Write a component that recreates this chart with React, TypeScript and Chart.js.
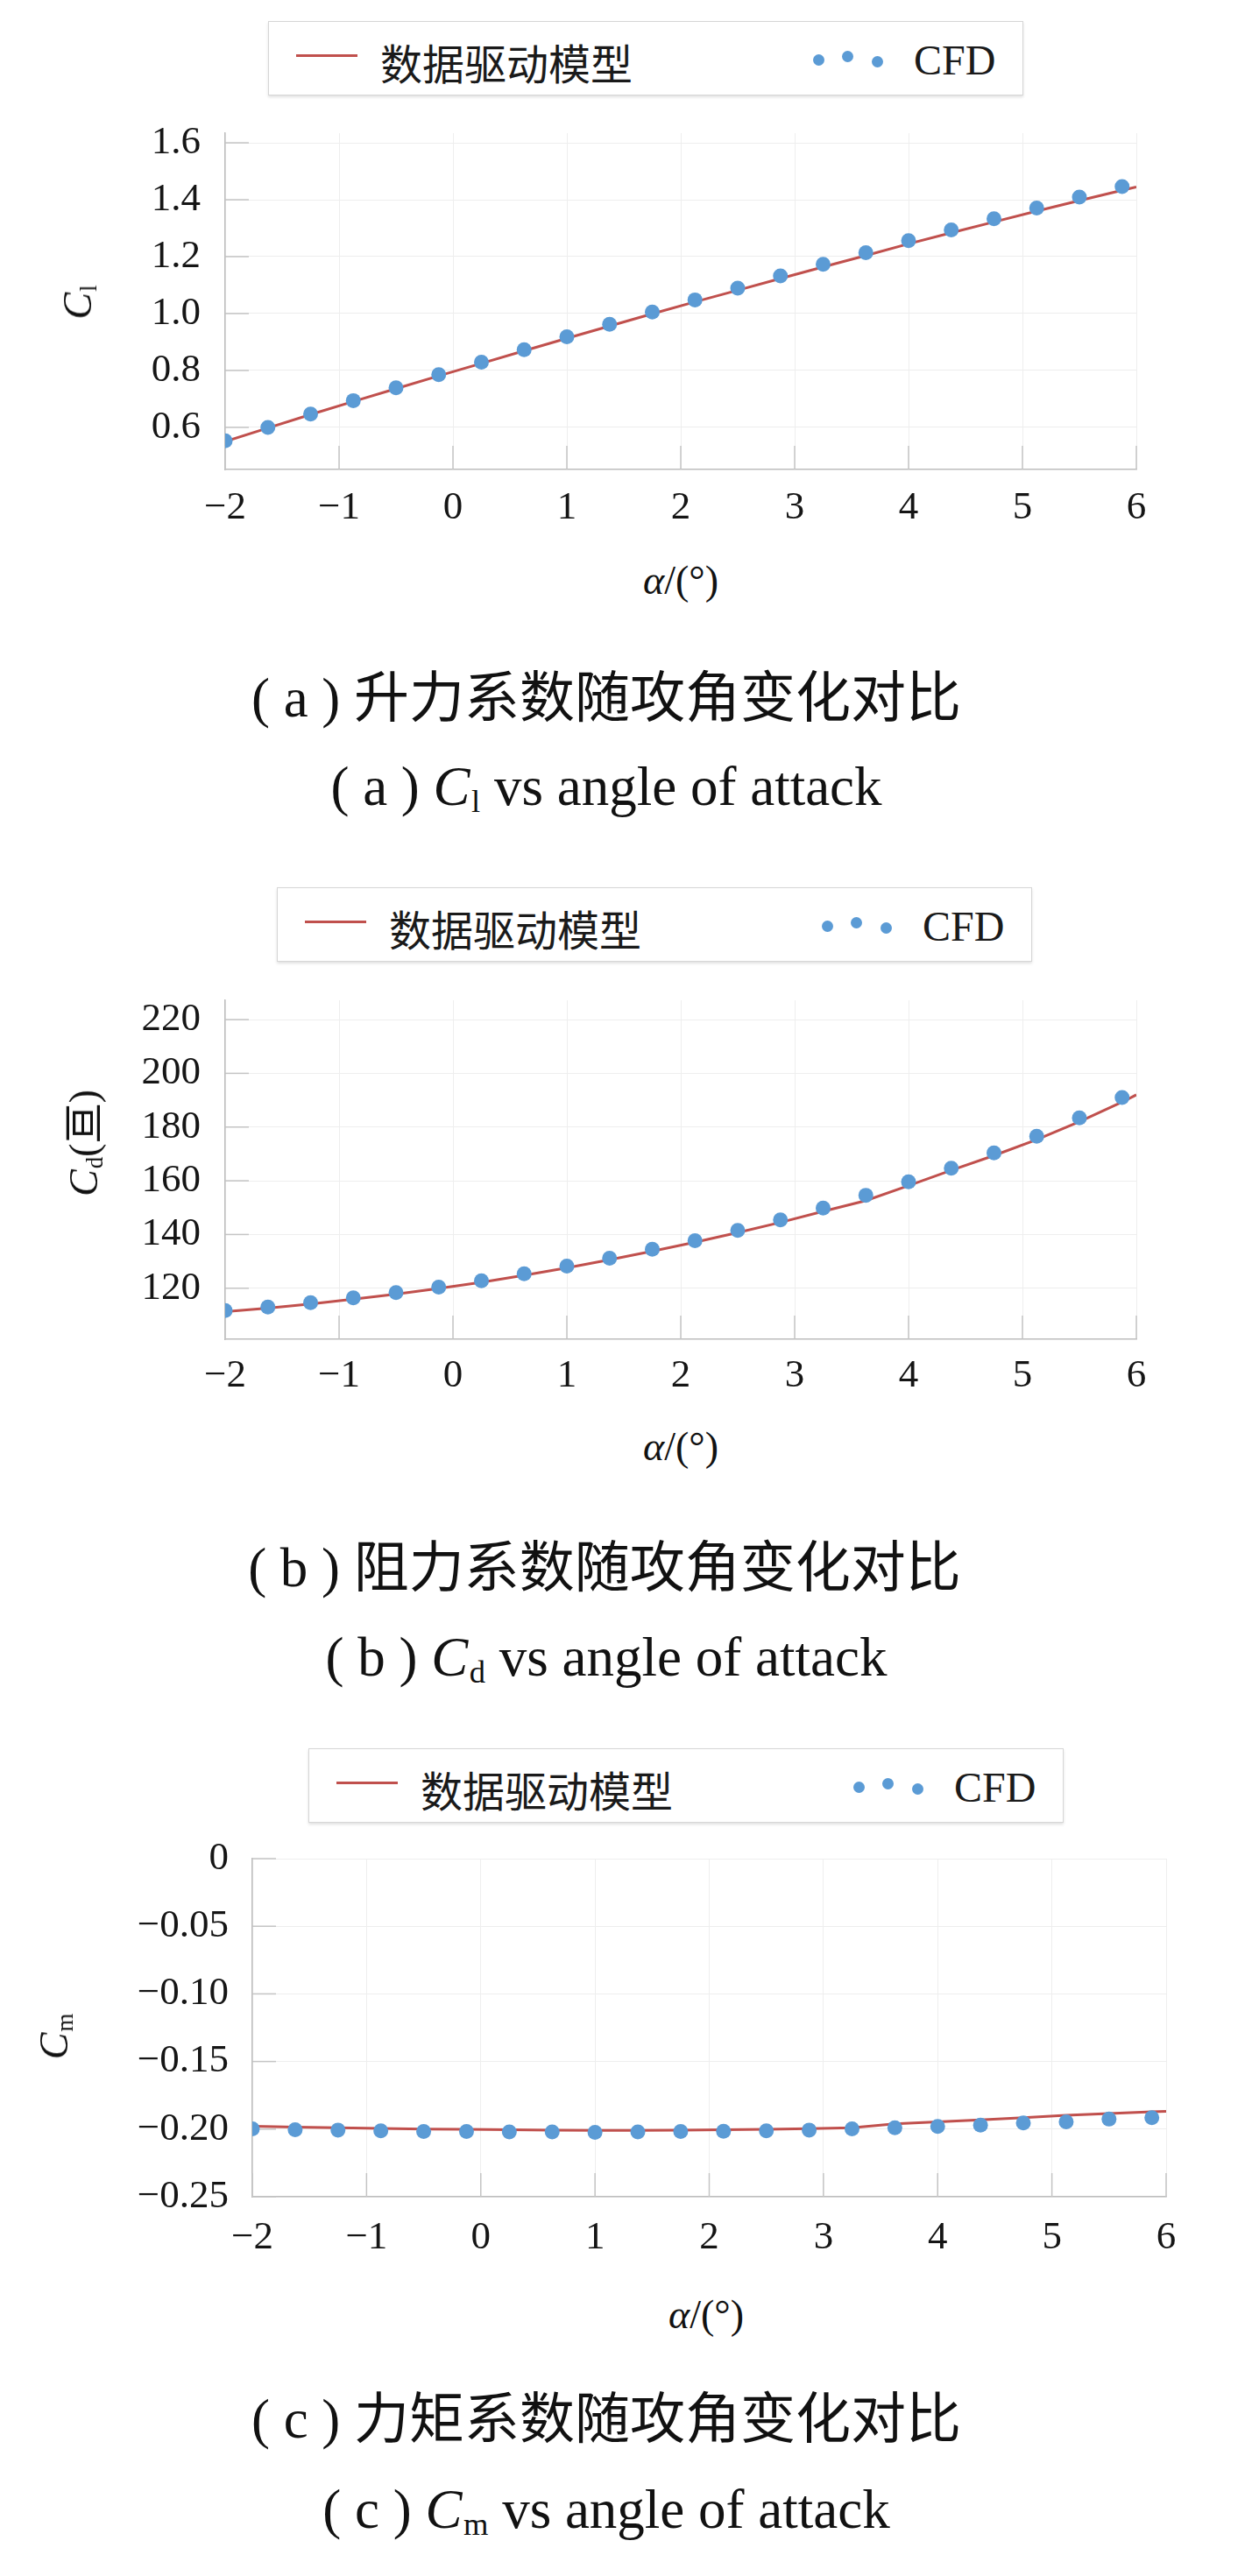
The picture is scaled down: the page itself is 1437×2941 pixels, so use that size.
import React, { useEffect, useRef } from 'react';
import { Chart, registerables } from 'chart.js';

Chart.register(...registerables);

// ---------------- data ----------------
const alphaCFD = [-2, -1.625, -1.25, -0.875, -0.5, -0.125, 0.25, 0.625, 1, 1.375, 1.75, 2.125, 2.5, 2.875, 3.25, 3.625, 4, 4.375, 4.75, 5.125, 5.5, 5.875];
const alphaModel = [-2, -1.625, -1.25, -0.875, -0.5, -0.125, 0.25, 0.625, 1, 1.375, 1.75, 2.125, 2.5, 2.875, 3.25, 3.625, 4, 4.375, 4.75, 5.125, 5.5, 5.875, 6];

const clCFD = [0.553, 0.600, 0.647, 0.694, 0.739, 0.785, 0.829, 0.873, 0.918, 0.962, 1.005, 1.048, 1.089, 1.132, 1.173, 1.214, 1.256, 1.294, 1.333, 1.371, 1.409, 1.446];
const clModel = [0.550, 0.598, 0.645, 0.691, 0.736, 0.781, 0.825, 0.869, 0.913, 0.956, 0.999, 1.041, 1.082, 1.123, 1.164, 1.204, 1.245, 1.284, 1.322, 1.360, 1.397, 1.433, 1.445];

const cdCFD = [111.7, 113.0, 114.6, 116.4, 118.4, 120.4, 122.8, 125.4, 128.2, 131.2, 134.5, 137.7, 141.5, 145.4, 149.8, 154.6, 159.6, 164.7, 170.4, 176.6, 183.4, 191.0];
const cdModel = [111.3, 112.6, 114.1, 115.9, 117.8, 119.9, 122.2, 124.8, 127.6, 130.6, 133.8, 137.1, 140.7, 144.5, 148.6, 152.6, 158.2, 163.9, 169.4, 175.3, 182.0, 189.3, 192.0];

const cmCFD = [-0.1998, -0.2004, -0.2007, -0.2013, -0.2018, -0.2018, -0.2021, -0.2021, -0.2024, -0.2021, -0.2018, -0.2016, -0.2013, -0.2007, -0.1998, -0.1990, -0.1980, -0.1970, -0.1955, -0.1946, -0.1926, -0.1915];
const cmModel = [-0.1978, -0.1985, -0.1990, -0.1995, -0.2000, -0.2002, -0.2005, -0.2008, -0.2010, -0.2010, -0.2008, -0.2005, -0.2002, -0.1997, -0.1990, -0.1961, -0.1947, -0.1932, -0.1915, -0.1898, -0.1885, -0.1872, -0.1868];

const xTicks = [-2, -1, 0, 1, 2, 3, 4, 5, 6];
const clTicks = [0.6, 0.8, 1.0, 1.2, 1.4, 1.6];
const cdTicks = [120, 140, 160, 180, 200, 220];
const cmTicks = [0, -0.05, -0.1, -0.15, -0.2, -0.25];

const legendModel = '数据驱动模型';
const legendCFD = 'CFD';

// ---------------- styles ----------------
const SERIF = "'Liberation Serif', 'Noto Sans CJK SC', serif";
const CJK = "'Noto Sans CJK SC', 'Liberation Serif', sans-serif";
const RED = '#c0504d';
const BLUE = '#5b9bd5';

if (typeof document !== 'undefined') {
  document.body.style.margin = '0';
  document.body.style.background = '#ffffff';
}

const minus = (s: string) => s.replace('-', '\u2212');

const inwardTicks = {
  id: 'inwardTicks',
  beforeDatasetsDraw(chart: any) {
    const { ctx, chartArea } = chart;
    const { left, bottom } = chartArea;
    const xs = chart.scales.x;
    const ys = chart.scales.y;
    ctx.save();
    ctx.strokeStyle = '#c4c4c4';
    ctx.lineWidth = 1.5;
    ys.ticks.forEach((t: any) => {
      const py = ys.getPixelForValue(t.value);
      ctx.beginPath();
      ctx.moveTo(left, py);
      ctx.lineTo(left + 27, py);
      ctx.stroke();
    });
    xs.ticks.forEach((t: any) => {
      const px = xs.getPixelForValue(t.value);
      ctx.beginPath();
      ctx.moveTo(px, bottom);
      ctx.lineTo(px, bottom - 27);
      ctx.stroke();
    });
    ctx.restore();
  },
};

type PanelCfg = {
  cfd: number[];
  model: number[];
  yTicks: number[];
  yMin: number;
  yMax: number;
  yFmt: (v: number) => string;
  padTop: number;
  padRight: number;
  yW: number;
  yPad: number;
  xH: number;
  xPad: number;
};

function makeConfig(p: PanelCfg): any {
  const tickFont = { family: SERIF, size: 45 };
  return {
    type: 'line',
    data: {
      datasets: [
        {
          label: legendCFD,
          data: alphaCFD.map((a, i) => ({ x: a, y: p.cfd[i] })),
          showLine: false,
          pointRadius: 8.5,
          pointHoverRadius: 8.5,
          pointBorderWidth: 0,
          pointBackgroundColor: BLUE,
          borderColor: BLUE,
          backgroundColor: BLUE,
        },
        {
          label: legendModel,
          data: alphaModel.map((a, i) => ({ x: a, y: p.model[i] })),
          borderColor: RED,
          backgroundColor: RED,
          borderWidth: 3,
          pointRadius: 0,
          tension: 0,
          fill: false,
        },
      ],
    },
    options: {
      animation: false,
      responsive: true,
      maintainAspectRatio: false,
      events: [],
      layout: { padding: { top: p.padTop, right: p.padRight, left: 0, bottom: 0 } },
      plugins: { legend: { display: false }, tooltip: { enabled: false }, title: { display: false } },
      scales: {
        x: {
          type: 'linear',
          min: -2,
          max: 6,
          afterBuildTicks: (s: any) => {
            s.ticks = xTicks.map((v) => ({ value: v }));
          },
          afterFit: (s: any) => {
            s.height = p.xH;
            s.paddingLeft = 0;
            s.paddingRight = 0;
          },
          grid: { color: '#eeeeee', lineWidth: 1, drawTicks: false },
          border: { display: true, color: '#bdbdbd', width: 1.5 },
          ticks: {
            padding: p.xPad,
            font: tickFont,
            color: '#151515',
            maxRotation: 0,
            autoSkip: false,
            callback: (v: any) => minus(String(v)),
          },
        },
        y: {
          type: 'linear',
          min: p.yMin,
          max: p.yMax,
          afterBuildTicks: (s: any) => {
            s.ticks = p.yTicks.map((v) => ({ value: v }));
          },
          afterFit: (s: any) => {
            s.width = p.yW;
            s.paddingTop = 0;
            s.paddingBottom = 0;
          },
          grid: { color: '#eeeeee', lineWidth: 1, drawTicks: false },
          border: { display: true, color: '#bdbdbd', width: 1.5 },
          ticks: {
            padding: p.yPad,
            font: tickFont,
            color: '#151515',
            autoSkip: false,
            callback: (v: any) => p.yFmt(Number(v)),
          },
        },
      },
    },
    plugins: [inwardTicks],
  };
}

function ChartCanvas({ top, height, cfg }: { top: number; height: number; cfg: PanelCfg }) {
  const ref = useRef<HTMLCanvasElement | null>(null);
  useEffect(() => {
    if (!ref.current) return;
    const chart = new Chart(ref.current, makeConfig(cfg));
    return () => chart.destroy();
  }, []);
  return (
    <div style={{ position: 'absolute', left: 0, top, width: 1437, height }}>
      <canvas ref={ref} />
    </div>
  );
}

function Txt({ x, y, size, rot, family, children }: any) {
  return (
    <div
      style={{
        position: 'absolute',
        left: x,
        top: y,
        transform: `translate(-50%, -50%)${rot ? ' rotate(-90deg)' : ''}`,
        fontSize: size,
        fontFamily: family || SERIF,
        lineHeight: 1,
        whiteSpace: 'nowrap',
        color: '#111',
      }}
    >
      {children}
    </div>
  );
}

const Sub = ({ children }: any) => (
  <span style={{ fontSize: '0.58em', position: 'relative', top: '0.22em', marginLeft: '0.04em' }}>{children}</span>
);

function Legend({ left, top }: { left: number; top: number }) {
  const dot = (cx: number, cy: number) => (
    <div
      style={{
        position: 'absolute',
        left: cx - 6.5,
        top: cy - 6.5,
        width: 13,
        height: 13,
        borderRadius: '50%',
        background: BLUE,
      }}
    />
  );
  return (
    <div
      style={{
        position: 'absolute',
        left,
        top,
        width: 862,
        height: 85,
        boxSizing: 'border-box',
        border: '1px solid #d6d6d6',
        boxShadow: '0 2px 3px rgba(0,0,0,0.12)',
        background: '#fff',
      }}
    >
      <div style={{ position: 'absolute', left: 31, top: 37, width: 70, height: 3, background: RED }} />
      <div
        style={{
          position: 'absolute',
          left: 127,
          top: 45,
          transform: 'translateY(-50%)',
          fontSize: 48,
          fontFamily: CJK,
          lineHeight: 1,
          color: '#1a1a1a',
          whiteSpace: 'nowrap',
        }}
      >
        {legendModel}
      </div>
      {dot(627, 43)}
      {dot(660, 39)}
      {dot(694, 45)}
      <div
        style={{
          position: 'absolute',
          left: 736,
          top: 44,
          transform: 'translateY(-50%)',
          fontSize: 48,
          fontFamily: SERIF,
          lineHeight: 1,
          color: '#1a1a1a',
          whiteSpace: 'nowrap',
        }}
      >
        {legendCFD}
      </div>
    </div>
  );
}

const fmt1 = (v: number) => v.toFixed(1);
const fmt0 = (v: number) => String(Math.round(v));
const fmtCm = (v: number) => (Math.abs(v) < 1e-9 ? '0' : minus(v.toFixed(2)));

const cfgA: PanelCfg = {
  cfd: clCFD, model: clModel, yTicks: clTicks, yMin: 0.452, yMax: 1.634, yFmt: fmt1,
  padTop: 32, padRight: 140, yW: 257, yPad: 28, xH: 84, xPad: 17,
};
const cfgB: PanelCfg = {
  cfd: cdCFD, model: cdModel, yTicks: cdTicks, yMin: 101, yMax: 227.2, yFmt: fmt0,
  padTop: 32, padRight: 140, yW: 257, yPad: 28, xH: 81, xPad: 15,
};
const cfgC: PanelCfg = {
  cfd: cmCFD, model: cmModel, yTicks: cmTicks, yMin: -0.25, yMax: 0, yFmt: fmtCm,
  padTop: 32, padRight: 106, yW: 288, yPad: 27, xH: 82, xPad: 20,
};

export default function App() {
  return (
    <div style={{ position: 'relative', width: 1437, height: 2941, background: '#fff', overflow: 'hidden' }}>
      {/* Panel (a) */}
      <Legend left={306} top={24} />
      <ChartCanvas top={120} height={500} cfg={cfgA} />
      <Txt x={89} y={345} size={46} rot>
        <i>C</i>
        <Sub>l</Sub>
      </Txt>
      <Txt x={777} y={663} size={46}>
        <i>α</i>/(°)
      </Txt>
      <Txt x={692} y={797} size={63}>( a ) 升力系数随攻角变化对比</Txt>
      <Txt x={692} y={898} size={63}>
        ( a ) <i>C</i>
        <Sub>l</Sub> vs angle of attack
      </Txt>

      {/* Panel (b) */}
      <Legend left={316} top={1013} />
      <ChartCanvas top={1110} height={500} cfg={cfgB} />
      <Txt x={96} y={1305} size={46} rot>
        <i>C</i>
        <Sub>d</Sub>(亘)
      </Txt>
      <Txt x={777} y={1652} size={46}>
        <i>α</i>/(°)
      </Txt>
      <Txt x={690} y={1790} size={63}>( b ) 阻力系数随攻角变化对比</Txt>
      <Txt x={692} y={1892} size={63}>
        ( b ) <i>C</i>
        <Sub>d</Sub> vs angle of attack
      </Txt>

      {/* Panel (c) */}
      <Legend left={352} top={1996} />
      <ChartCanvas top={2090} height={500} cfg={cfgC} />
      <Txt x={62} y={2325} size={46} rot>
        <i>C</i>
        <Sub>m</Sub>
      </Txt>
      <Txt x={806} y={2643} size={46}>
        <i>α</i>/(°)
      </Txt>
      <Txt x={692} y={2762} size={63}>( c ) 力矩系数随攻角变化对比</Txt>
      <Txt x={692} y={2865} size={63}>
        ( c ) <i>C</i>
        <Sub>m</Sub> vs angle of attack
      </Txt>
    </div>
  );
}
